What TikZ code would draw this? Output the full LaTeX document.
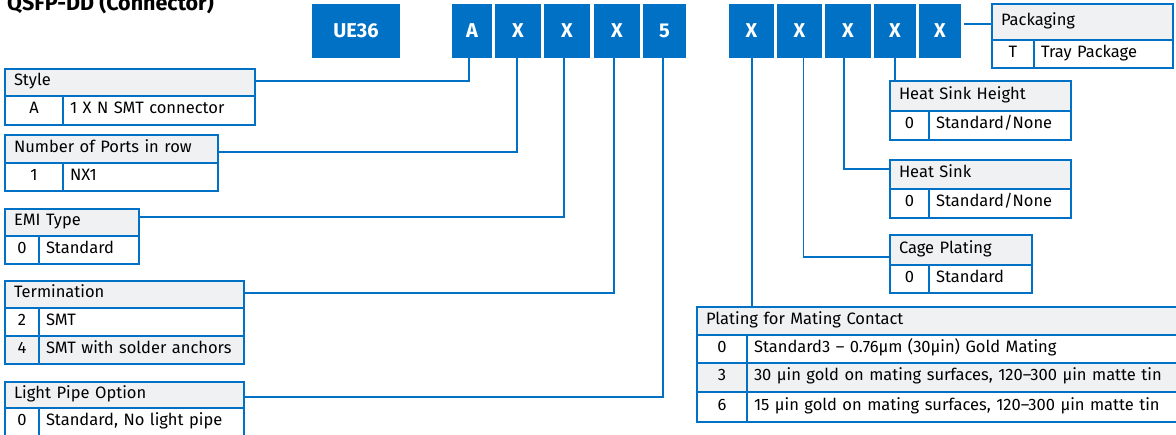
\documentclass[tikz,border=0pt]{standalone}
\usepackage{fontspec}
\setmainfont{Fira Sans}
\definecolor{iblue}{RGB}{0,113,197}
\definecolor{hgrey}{RGB}{240,241,243}
\tikzset{
  blk/.style={fill=iblue, draw=none, text=white, font=\bfseries\fontsize{20}{22}\selectfont, inner sep=0pt, minimum height=54pt},
  hdr/.style={draw=iblue, line width=1.3pt, fill=hgrey, inner sep=0pt, align=left, font=\fontsize{16.5}{18}\selectfont, text height=0.92em, text depth=0.23em},
  cell/.style={draw=iblue, line width=1.3pt, inner sep=0pt, font=\fontsize{16.5}{18}\selectfont, text height=0.92em, text depth=0.23em},
  conn/.style={draw=iblue, line width=1.5pt}
}
% header: name, x1, x2, y1, y2, text
\newcommand{\hdrow}[6]{%
  \pgfmathsetmacro{\cw}{#3-#2}\pgfmathsetmacro{\ch}{#5-#4}\pgfmathsetmacro{\tw}{#3-#2-18}%
  \node[hdr, minimum width=\cw pt, minimum height=\ch pt, text width=\tw pt] (#1) at ({(#2+#3)/2},{(#4+#5)/2}) {#6};}
% row: name, x1, xd, x2, y1, y2, code, desc, fill
\newcommand{\oprow}[9]{%
  \pgfmathsetmacro{\cwa}{#3-#2}\pgfmathsetmacro{\cwb}{#4-#3}\pgfmathsetmacro{\ch}{#6-#5}\pgfmathsetmacro{\tw}{#4-#3-14}%
  \node[cell, fill=#9, minimum width=\cwa pt, minimum height=\ch pt] (#1c) at ({(#2+#3)/2},{(#5+#6)/2}) {#7};
  \node[cell, fill=#9, minimum width=\cwb pt, minimum height=\ch pt, text width=\tw pt, align=left] (#1d) at ({(#3+#4)/2},{(#5+#6)/2}) {#8};}
% block: name, x1, x2, text
\newcommand{\blkbox}[4]{%
  \pgfmathsetmacro{\cw}{#3-#2}%
  \node[blk, minimum width=\cw pt] (#1) at ({(#2+#3)/2},31) {#4};}
\begin{document}
\begin{tikzpicture}[x=1pt,y=-1pt]
\useasboundingbox (0,0) rectangle (1176,434);
\clip (0,0) rectangle (1176,434);
\fill[white] (0,0) rectangle (1176,434);

\node[anchor=base west, inner sep=0pt, font=\bfseries\fontsize{21.5}{23}\selectfont] (title) at (7,10) {QSFP-DD (Connector)};

% part number blocks
\blkbox{bUE}{312}{400}{UE36}
\blkbox{bA}{452}{492}{A}
\blkbox{bX1}{495}{541}{X}
\blkbox{bX2}{544}{590}{X}
\blkbox{bX3}{594}{640}{X}
\blkbox{bF}{643}{686}{5}
\blkbox{rX1}{729}{774}{X}
\blkbox{rX2}{777}{822}{X}
\blkbox{rX3}{825}{871}{X}
\blkbox{rX4}{874}{916}{X}
\blkbox{rX5}{919}{961}{X}

% left tables
\hdrow{styh}{5}{255}{69}{96}{Style}
\oprow{sty1}{5}{63}{255}{96}{125}{A}{1 X N SMT connector}{white}

\hdrow{porth}{5}{218}{135}{163}{Number of Ports in row}
\oprow{port1}{5}{63}{218}{163}{191}{1}{NX1}{white}

\hdrow{emih}{5}{139}{209}{236}{EMI Type}
\oprow{emi1}{5}{39}{139}{236}{264}{0}{Standard}{white}

\hdrow{termh}{5}{244}{281}{308}{Termination}
\oprow{term1}{5}{39}{244}{308}{336}{2}{SMT}{white}
\oprow{term2}{5}{39}{244}{336}{364}{4}{SMT with solder anchors}{hgrey}

\hdrow{lph}{5}{244}{382}{408}{Light Pipe Option}
\oprow{lp1}{5}{39}{244}{408}{437}{0}{Standard, No light pipe}{white}

% right tables
\hdrow{pkh}{992}{1173}{4}{40}{Packaging}
\oprow{pk1}{992}{1034}{1173}{40}{68}{T}{Tray Package}{white}

\hdrow{hshh}{890}{1071}{81}{111}{Heat Sink Height}
\oprow{hsh1}{890}{929}{1071}{111}{140}{0}{Standard/None}{white}

\hdrow{hsh}{890}{1071}{160}{189}{Heat Sink}
\oprow{hs1}{890}{929}{1071}{189}{218}{0}{Standard/None}{white}

\hdrow{cph}{890}{1032}{235}{265}{Cage Plating}
\oprow{cp1}{890}{929}{1032}{265}{293}{0}{Standard}{white}

\hdrow{plh}{697}{1182}{307}{335}{Plating for Mating Contact}
\oprow{pl1}{697}{747}{1182}{335}{363}{0}{Standard3 – 0.76µm (30µin) Gold Mating}{white}
\oprow{pl2}{697}{747}{1182}{363}{392}{3}{30 µin gold on mating surfaces, 120–300 µin matte tin}{hgrey}
\oprow{pl3}{697}{747}{1182}{392}{422}{6}{15 µin gold on mating surfaces, 120–300 µin matte tin}{white}

% connectors left
\draw[conn] ([xshift=-3pt]bA.south) |- ([yshift=1.5pt]styh.east);
\draw[conn] ([xshift=-1pt]bX1.south) |- ([yshift=-3pt]porth.east);
\draw[conn] ([xshift=-3pt]bX2.south) |- ([yshift=5.5pt]emih.east);
\draw[conn] ([xshift=-3pt]bX3.south) |- ([yshift=1.5pt]termh.east);
\draw[conn] ([xshift=-1.5pt]bF.south) |- ([yshift=-2pt]lph.east);

% connectors right
\draw[conn] ([xshift=3pt,yshift=-2pt]pkh.west -| rX5.east) -- ([yshift=-2pt]pkh.west);
\draw[conn] (rX4.south) -- (rX4.south |- hshh.north);
\draw[conn] ([xshift=-4pt]rX3.south) |- ([yshift=5.5pt]hsh.west);
\draw[conn] ([xshift=4pt]rX2.south) |- ([yshift=-7pt]cph.west);
\draw[conn] ([xshift=0.5pt]rX1.south) -- ([xshift=0.5pt]rX1.south |- plh.north);
\end{tikzpicture}
\end{document}
